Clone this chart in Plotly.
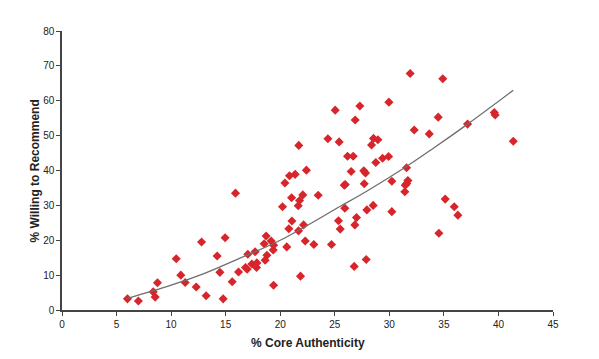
import plotly.graph_objects as go

# data
core_authenticity = [
    6.0, 7.0, 8.36, 8.54, 8.75, 10.47, 10.89, 11.29, 12.3, 12.79, 13.21, 14.22, 14.47, 14.77, 14.95,
    15.6, 15.9, 16.18, 17.03, 16.82, 16.97, 17.4, 17.7, 17.83, 17.86, 18.53, 18.71, 18.62, 18.78,
    19.17, 19.39, 19.36, 19.39, 20.21, 20.43, 20.6, 20.79, 20.85, 21.04, 21.07, 21.37, 21.65, 21.7,
    21.77, 21.68, 21.86, 22.07, 22.14, 22.29, 22.4, 23.08, 23.48, 24.37, 24.7, 25.04, 25.4, 25.34,
    25.5, 25.87, 25.96, 25.92, 26.17, 26.5, 26.69, 26.78, 26.84, 26.99, 26.87, 27.3, 27.66, 27.82,
    27.7, 27.88, 27.94, 28.37, 28.52, 28.55, 28.76, 28.95, 29.38, 29.96, 29.93, 30.23, 30.23, 31.42,
    31.46, 31.6, 31.7, 31.58, 31.91, 32.28, 33.66, 34.48, 34.54, 34.9, 35.12, 35.95, 36.28, 37.17,
    39.62, 39.7, 41.36,
]
willing_to_recommend = [
    3.2, 2.6, 5.2, 3.7, 7.8, 14.7, 10.0, 7.9, 6.6, 19.5, 4.1, 15.5, 10.8, 3.2, 20.7,
    8.1, 33.5, 10.9, 16.0, 12.2, 11.7, 13.2, 16.7, 12.2, 13.5, 19.0, 21.2, 14.3, 15.7,
    19.8, 18.6, 17.2, 7.1, 29.6, 36.4, 18.1, 23.3, 38.5, 32.2, 25.5, 38.9, 29.9, 47.2,
    31.4, 22.7, 9.7, 33.0, 24.4, 19.8, 40.1, 18.8, 32.9, 49.1, 18.8, 57.3, 48.2, 25.6,
    23.2, 35.8, 36.0, 29.2, 44.1, 39.7, 44.1, 12.5, 24.4, 26.5, 54.5, 58.5, 39.9, 39.3,
    36.2, 14.5, 28.7, 47.3, 30.0, 49.2, 42.3, 48.8, 43.5, 59.6, 44.0, 36.9, 28.2, 33.9,
    35.8, 36.3, 37.1, 40.8, 67.8, 51.6, 50.5, 55.3, 22.0, 66.3, 31.8, 29.6, 27.2, 53.3,
    56.6, 55.9, 48.4,
]

# trend line points
trend_x = [6.0, 10.0, 13.0, 16.27, 20.0, 25.43, 28.0, 31.5, 34.0, 37.17, 41.36]
trend_y = [3.3, 7.1, 10.4, 14.8, 20.0, 29.6, 34.2, 41.0, 46.3, 53.3, 63.0]

x_ticks = [0, 5, 10, 15, 20, 25, 30, 35, 40, 45]
y_ticks = [0, 10, 20, 30, 40, 50, 60, 70, 80]

x_title = "% Core Authenticity"
y_title = "% Willing to Recommend"

fig = go.Figure()
fig.add_trace(go.Scatter(
    x=core_authenticity, y=willing_to_recommend, mode="markers",
    marker=dict(symbol="diamond", size=7, color="#d7262b", line=dict(width=0)),
    showlegend=False, cliponaxis=False,
))
fig.add_trace(go.Scatter(
    x=trend_x, y=trend_y, mode="lines",
    line=dict(color="#6e6e6e", width=1.3, shape="spline"),
    showlegend=False, hoverinfo="skip",
))

axis_font = dict(family="Liberation Sans, Arial, sans-serif", size=10, color="#222222")
title_font = dict(family="Liberation Sans, Arial, sans-serif", size=12, color="#222222")
fig.update_layout(
    width=591, height=351,
    margin=dict(l=54, r=46, t=23, b=49, autoexpand=False),
    paper_bgcolor="white", plot_bgcolor="white",
    font=dict(family="Liberation Sans, Arial, sans-serif", color="#222222"),
    xaxis=dict(
        range=[0, 45], tickvals=x_ticks, ticktext=[str(v) for v in x_ticks],
        showgrid=False, zeroline=False, showline=True, linecolor="#444444", linewidth=1.5,
        ticks="outside", ticklen=4, tickcolor="#444444", tickfont=axis_font,
        automargin=False, fixedrange=True,
    ),
    yaxis=dict(
        range=[0, 80], tickvals=y_ticks, ticktext=[str(v) for v in y_ticks],
        showgrid=False, zeroline=False, showline=True, linecolor="#444444", linewidth=1.5,
        ticks="outside", ticklen=4, tickcolor="#444444", tickfont=axis_font,
        automargin=False, fixedrange=True,
    ),
    annotations=[
        dict(text="<b>" + x_title + "</b>", xref="paper", yref="paper", x=0.5, y=-0.118,
             xanchor="center", yanchor="middle", showarrow=False, font=title_font),
        dict(text="<b>" + y_title + "</b>", xref="paper", yref="paper", x=-0.055, y=0.5,
             xanchor="center", yanchor="middle", textangle=-90, showarrow=False, font=title_font),
    ],
)

fig.write_html("out.html")
